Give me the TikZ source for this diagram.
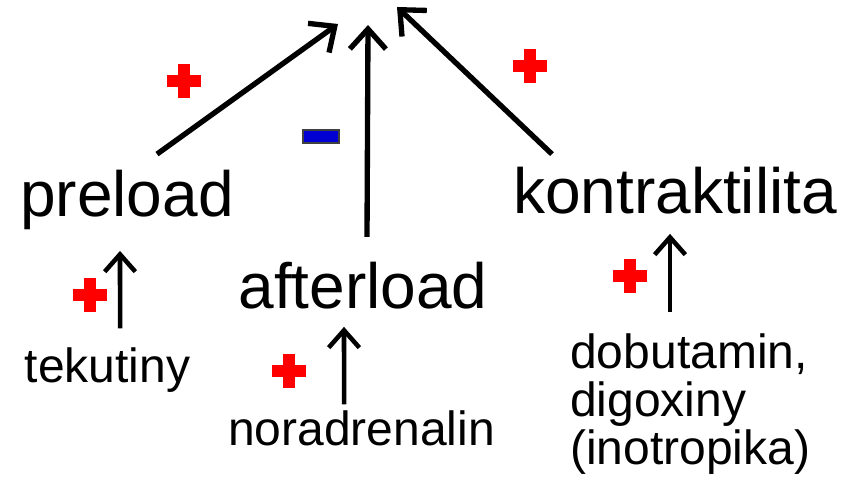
\documentclass[tikz,border=0pt]{standalone}
\usepackage{fontspec}
\setmainfont{Liberation Sans}
\usetikzlibrary{positioning,arrows.meta}
\definecolor{plusred}{HTML}{FF0000}
\definecolor{minusblue}{HTML}{0000D2}
\tikzset{
  bigtext/.style={font=\fontsize{48}{58}\selectfont,inner sep=0pt},
  smalltext/.style={font=\fontsize{36}{36}\selectfont,inner sep=0pt},
  plusmark/.style={minimum size=25.5pt,inner sep=0pt,path picture={
    \fill[plusred] ([xshift=-12.75pt,yshift=-4.5pt]path picture bounding box.center) rectangle ([xshift=12.75pt,yshift=4.5pt]path picture bounding box.center);
    \fill[plusred] ([xshift=-4.5pt,yshift=-12.75pt]path picture bounding box.center) rectangle ([xshift=4.5pt,yshift=12.75pt]path picture bounding box.center);}},
  minusmark/.style={minimum width=27pt,minimum height=9.75pt,inner sep=0pt,fill=minusblue,draw=black!75,line width=1.1pt},
  bigarrow/.style={-{Straight Barb[length=15pt,width=27pt]},line width=4pt},
  smallarrow/.style={-{Straight Barb[length=13pt,width=23pt]},line width=3.4pt}
}
\begin{document}
\begin{tikzpicture}[x=0.75pt,y=-0.75pt]
\useasboundingbox (0,0) rectangle (859,491);
\node[bigtext,anchor=base] (preload) at (127,217) {preload};
\node[bigtext,anchor=base] (afterload) at (363,308) {afterload};
\node[bigtext,anchor=base] (kontr) at (675,214) {kontraktilita};
\node[smalltext,anchor=base] (tekutiny) at (107.5,382) {tekutiny};
\node[smalltext,anchor=base] (noradr) at (361.5,445) {noradrenalin};
\node[smalltext,anchor=north west,align=left] (inotrop) at (570,333) {dobutamin,\\digoxiny\\(inotropika)};
\coordinate (tipP) at (338,24);
\coordinate (tipA) at (368,25);
\coordinate (tipK) at (397,7);
\node[plusmark] (plusP) at (184,81) {};
\node[minusmark] (minusA) at (321,136.5) {};
\node[plusmark] (plusK) at (530,66) {};
\node[plusmark] (plusT) at (90,295) {};
\node[plusmark] (plusN) at (289,371) {};
\node[plusmark] (plusI) at (630,276) {};
\draw[bigarrow] ([xshift=22.5pt,yshift=12.2pt]preload.north) -- (tipP);
\draw[bigarrow] ([xshift=3pt,yshift=18.3pt]afterload.north) -- (tipA);
\draw[bigarrow] ([xshift=-92.25pt,yshift=9.9pt]kontr.north) -- (tipK);
\draw[smallarrow] ([xshift=9.4pt,yshift=14pt]tekutiny.north) -- ([xshift=-5.25pt,yshift=-15.3pt]preload.south);
\draw[smallarrow] ([xshift=-13.1pt,yshift=4.2pt]noradr.north) -- ([xshift=-14.25pt,yshift=-13.5pt]afterload.south);
\draw[smallarrow] ([xshift=75pt,yshift=15.5pt]inotrop.north west) -- ([xshift=-3.75pt,yshift=-14.25pt]kontr.south);
\end{tikzpicture}
\end{document}
